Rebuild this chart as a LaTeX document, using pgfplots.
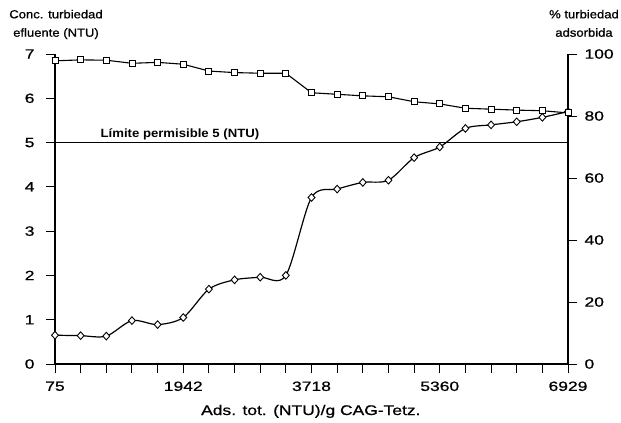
\documentclass[border=0pt]{standalone}
\usepackage{fontspec}
\setmainfont{Liberation Sans}
\newfontfamily\tickfont[FakeStretch=1.3,FakeBold=0.8]{Liberation Sans}
\newfontfamily\labfont[FakeStretch=1.12,FakeBold=0.8]{Liberation Sans}
\newfontfamily\xlabfont[FakeStretch=1.25,FakeBold=0.8]{Liberation Sans}
\newfontfamily\limfont[FakeStretch=1.1]{Liberation Sans Bold}
\usepackage{pgfplots}
\usepackage{pgfplotstable}
\pgfplotsset{compat=1.18}

% Effluent turbidity (NTU), left axis
\pgfplotstableread{
i  c
0  0.65
1  0.64
2  0.63
3  0.98
4  0.89
5  1.05
6  1.69
7  1.90
8  1.96
9  2.00
10 3.76
11 3.95
12 4.10
13 4.15
14 4.66
15 4.90
16 5.32
17 5.40
18 5.47
19 5.57
20 5.70
}\conc

% Adsorbed turbidity (%), right axis
\pgfplotstableread{
i  p
0  97.8
1  98.1
2  98.0
3  97.0
4  97.3
5  96.7
6  94.5
7  94.0
8  93.8
9  93.8
10 87.5
11 87.0
12 86.5
13 86.2
14 84.6
15 83.9
16 82.5
17 82.2
18 81.9
19 81.7
20 81.0
}\pct

\pgfplotsset{
  common/.style={
    scale only axis, width=513bp, height=310bp,
    at={(0,0)}, anchor=south west,
    xmin=0, xmax=20,
    axis line style={line width=1.2pt},
    major tick style={line width=1pt, black},
    major tick length=9bp,
    tick align=outside,
    tick label style={font=\tickfont\fontsize{13.5}{14}\selectfont},
    /pgf/number format/assume math mode=true,
    clip=false,
  }
}

\begin{document}
\begin{tikzpicture}[x=1bp,y=1bp]
\useasboundingbox (-55,-58) rectangle (566,364);
\begin{axis}[common,
  axis x line*=bottom, axis y line*=left,
  ymin=0, ymax=7, ytick={0,1,...,7},
  xtick={0,1,...,20},
  xticklabels={75,,,,,1942,,,,,3718,,,,,5360,,,,,6929},
  xticklabel style={yshift=-5bp},
  yticklabel style={xshift=-8bp},
]
\addplot[line width=1.1pt, black, no marks] coordinates {(0,5) (20,5)};
\addplot[line width=1.2pt, black, smooth, tension=0.5,
  mark=diamond*, mark size=3.8bp,
  mark options={fill=white, line width=0.9pt, solid, xscale=1.2}]
  table[x=i, y=c] {\conc};
\node[font=\limfont\fontsize{12}{12}\selectfont, anchor=base, inner sep=0pt]
  at (axis cs:4.87,5) [yshift=5.5bp] {Límite permisible 5 (NTU)};
\end{axis}
\begin{axis}[common,
  axis x line=none, axis y line*=right,
  ymin=0, ymax=100, ytick={0,20,...,100},
  yticklabel style={xshift=4bp},
]
\addplot[line width=1.1pt, black, sharp plot,
  mark=square*, mark size=3bp,
  mark options={fill=white, line width=0.9pt, solid}]
  table[x=i, y=p] {\pct};
\end{axis}
\begin{scope}[every node/.style={font=\labfont\fontsize{11.7}{12}\selectfont, anchor=base, inner sep=0pt}]
\node at (1,345.7) {Conc. turbiedad};
\node at (1,327.3) {efluente (NTU)};
\node at (529,345.7) {\% turbiedad};
\node at (529,327.3) {adsorbida};
\end{scope}
\node[font=\xlabfont\fontsize{14}{14}\selectfont, anchor=base, inner sep=0pt]
  at (255.8,-51) {Ads. tot. (NTU)/g CAG-Tetz.};
\end{tikzpicture}
\end{document}
